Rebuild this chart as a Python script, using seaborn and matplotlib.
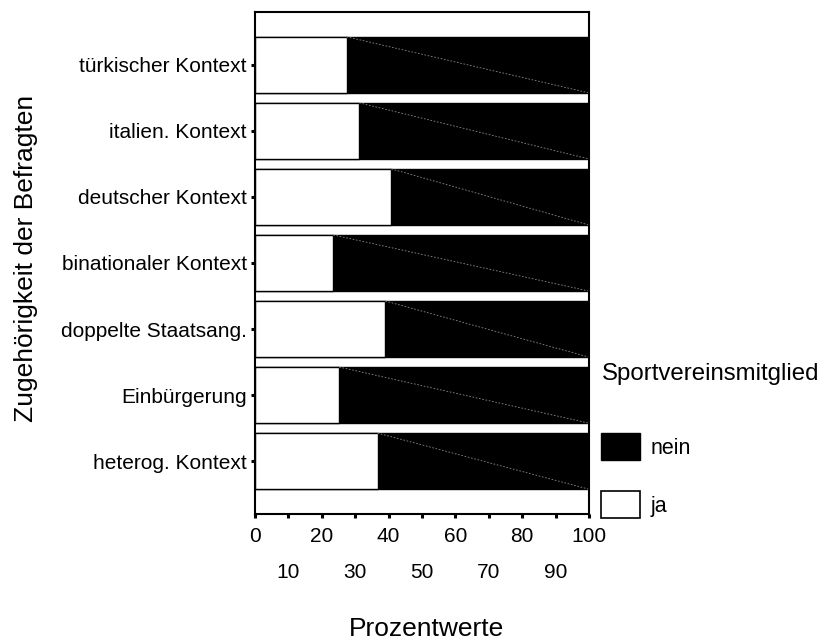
import numpy as np
import pandas as pd
import matplotlib
matplotlib.use("Agg")
import matplotlib.pyplot as plt
from matplotlib.patches import Patch
import seaborn as sns

# ── Data ──────────────────────────────────────────────────────────────────────
CATEGORIES = [
    "türkischer Kontext", "italien. Kontext", "deutscher Kontext",
    "binationaler Kontext", "doppelte Staatsang.", "Einbürgerung",
    "heterog. Kontext",
]
JA   = [27.4, 31.2, 40.8, 23.4, 39.0, 25.2, 36.7]     # % Sportvereinsmitglied
NEIN = [100 - v for v in JA]                         # rest = nein

MAJOR_TICKS = [0, 20, 40, 60, 80, 100]
MINOR_TICKS = [10, 30, 50, 70, 90]

# ── Style ─────────────────────────────────────────────────────────────────────
sns.set_theme(style="white")
plt.rcParams["font.family"] = ["Liberation Sans", "DejaVu Sans"]
plt.rcParams["text.color"] = "black"
plt.rcParams["xtick.color"] = "black"
plt.rcParams["ytick.color"] = "black"

df = pd.DataFrame({"kontext": CATEGORIES, "ja": JA, "nein": NEIN})
df["total"] = df["ja"] + df["nein"]

BAR_W = 0.85

fig = plt.figure(figsize=(8.19, 6.41), dpi=100)
ax = fig.add_axes([255 / 819, 1 - 514 / 641, 334 / 819, 502 / 641])

# stacked bars: full bar (nein) in black, then ja on top in white
sns.barplot(data=df, x="total", y="kontext", orient="h", color="black",
            width=BAR_W, edgecolor="black", linewidth=1.0, saturation=1,
            ax=ax)
sns.barplot(data=df, x="ja", y="kontext", orient="h", color="white",
            width=BAR_W, edgecolor="black", linewidth=1.0, saturation=1,
            ax=ax)

# faint diagonal dashes inside each black segment (export artefact)
for i, v in enumerate(df["ja"]):
    ax.plot([v, df["total"][i]], [i - BAR_W / 2, i + BAR_W / 2],
            color="#8a8a8a", lw=0.6, ls=(0, (2, 2)))

ax.set_xlim(0, 100)
ax.set_ylim(len(CATEGORIES) - 0.2, -0.8)

# two-row x tick labels
ax.set_xticks(MAJOR_TICKS)
ax.set_xticklabels([str(t) for t in MAJOR_TICKS])
ax.set_xticks(MINOR_TICKS, minor=True)
ax.set_xticklabels([str(t) for t in MINOR_TICKS], minor=True)
ax.tick_params(axis="x", which="both", bottom=True, direction="out",
               length=3, width=2.2, color="black", labelsize=15,
               labelcolor="black")
ax.tick_params(axis="x", which="major", pad=6)
ax.tick_params(axis="x", which="minor", pad=32)
ax.tick_params(axis="y", left=True, direction="out", length=3, width=2.2,
               color="black", labelsize=15, labelcolor="black", pad=3)

ax.set_xlabel("")
ax.set_ylabel("")
for s in ax.spines.values():
    s.set_visible(True)
    s.set_color("black")
    s.set_linewidth(1.5)
ax.grid(False)

fig.text(26 / 819, 1 - 258 / 641, "Zugehörigkeit der Befragten",
         rotation=90, ha="center", va="center", fontsize=19, color="black")
fig.text(426 / 819, 1 - 629 / 641, "Prozentwerte",
         ha="center", va="center", fontsize=19, color="black")

# legend
fig.text(602 / 819, 1 - 374 / 641, "Sportvereinsmitglied",
         ha="left", va="center", fontsize=17.3, color="black")
handles = [Patch(facecolor="black", edgecolor="black", label="nein"),
           Patch(facecolor="white", edgecolor="black", lw=1.2, label="ja")]
fig.legend(handles=handles, loc="upper left",
           bbox_to_anchor=(601 / 819, 1 - 433 / 641), frameon=False,
           fontsize=15.5, handlelength=1.8, handleheight=1.55,
           handletextpad=0.5, labelspacing=1.45, borderpad=0,
           borderaxespad=0, labelcolor="black")

fig.savefig("out.png", dpi=100)
